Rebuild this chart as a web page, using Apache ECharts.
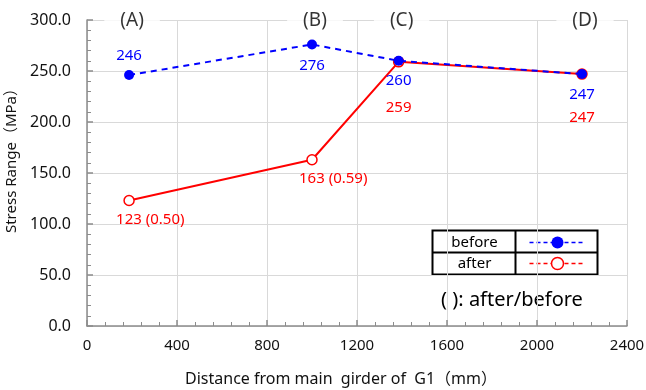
<!DOCTYPE html>
<html>
<head>
<meta charset="utf-8">
<script src="https://cdn.jsdelivr.net/npm/echarts@6/dist/echarts.min.js"></script>
<style>
  html, body { margin: 0; padding: 0; background: #fff; }
  #main { width: 646px; height: 390px; }
</style>
</head>
<body>
<div id="main"></div>
<script>
// distance from main girder (mm) for each measuring point
const distances = [187, 1000, 1385, 2200];
const locationNames = ['(A)', '(B)', '(C)', '(D)'];
// stress range (MPa)
const beforeValues = [246, 276, 260, 247];
const afterValues = [123, 163, 259, 247];
const ratioTexts = ['(0.50)', '(0.59)', '', ''];
const xTicks = [0, 400, 800, 1200, 1600, 2000, 2400];
const yTicks = [0, 50, 100, 150, 200, 250, 300];

const FONT = '"Noto Sans", "Noto Sans CJK JP", sans-serif';
const BLUE = '#0000ff';
const RED = '#ff0000';

// label placement per point (style only)
const beforeLabelPos = [['top', 7], ['bottom', 9], ['bottom', 7], ['bottom', 8]];
const afterLabelPos = [['bottom', 6], ['bottom', 6], ['bottom', 33], ['bottom', 30]];

const chart = echarts.init(document.getElementById('main'), null, {renderer: 'canvas'});

const beforeData = beforeValues.map(function (v, i) {
  return {
    value: [distances[i], v],
    label: {position: beforeLabelPos[i][0], distance: beforeLabelPos[i][1]}
  };
});
const afterData = afterValues.map(function (v, i) {
  const hasRatio = ratioTexts[i] !== '';
  return {
    value: [distances[i], v],
    label: {
      position: afterLabelPos[i][0],
      distance: afterLabelPos[i][1],
      align: hasRatio ? 'left' : 'center',
      offset: hasRatio ? [-13, 0] : [0, 0]
    }
  };
});

const axisLineStyle = {color: '#8c8c8c', width: 1.5};

const option = {
  animation: false,
  grid: {left: 87, right: 19, top: 20, bottom: 64, outerBoundsMode: 'none'},
  xAxis: {
    type: 'value',
    min: xTicks[0],
    max: xTicks[xTicks.length - 1],
    interval: 400,
    name: 'Distance from main  girder of  G1（mm）',
    nameLocation: 'middle',
    nameGap: 45,
    nameTextStyle: {fontFamily: FONT, fontSize: 16, color: '#111', padding: [0, 32, 0, 0]},
    axisLine: {lineStyle: axisLineStyle},
    axisTick: {show: true, inside: true, length: 6, lineStyle: axisLineStyle},
    minorTick: {show: true, splitNumber: 5, length: 4, lineStyle: {color: '#8c8c8c'}},
    axisLabel: {
      fontFamily: FONT, fontSize: 15, color: '#111', margin: 12,
      formatter: function (v) { return String(v); }
    },
    splitLine: {show: true, lineStyle: {color: '#d9d9d9', width: 1}}
  },
  yAxis: {
    type: 'value',
    min: yTicks[0],
    max: yTicks[yTicks.length - 1],
    interval: 50,
    name: 'Stress Range（MPa）',
    nameLocation: 'middle',
    nameGap: 58,
    nameTextStyle: {fontFamily: FONT, fontSize: 15, color: '#111', padding: [0, 0, 0, 32]},
    axisLine: {show: true, lineStyle: axisLineStyle},
    axisTick: {show: true, inside: true, length: 6, lineStyle: axisLineStyle},
    minorTick: {show: true, splitNumber: 5, length: 4, lineStyle: {color: '#8c8c8c'}},
    axisLabel: {
      fontFamily: FONT, fontSize: 16, color: '#111', margin: 16,
      formatter: function (v) { return v.toFixed(1); }
    },
    splitLine: {show: true, lineStyle: {color: '#d9d9d9', width: 1}}
  },
  series: [
    {
      name: 'after',
      type: 'line',
      z: 2,
      data: afterData,
      symbol: 'circle',
      symbolSize: 10,
      itemStyle: {color: '#fff', borderColor: RED, borderWidth: 1.5},
      lineStyle: {color: RED, width: 2},
      label: {
        show: true,
        fontFamily: FONT,
        fontSize: 15,
        color: RED,
        formatter: function (p) {
          const r = ratioTexts[p.dataIndex];
          return r ? p.value[1] + ' ' + r : String(p.value[1]);
        }
      }
    },
    {
      name: 'before',
      type: 'line',
      z: 3,
      data: beforeData,
      symbol: 'circle',
      symbolSize: 10,
      itemStyle: {color: BLUE},
      lineStyle: {color: BLUE, width: 2, type: [6, 5]},
      label: {
        show: true,
        fontFamily: FONT,
        fontSize: 15,
        color: BLUE,
        formatter: function (p) { return String(p.value[1]); }
      }
    },
    {
      // location names sitting on the top grid line
      type: 'scatter',
      silent: true,
      z: 4,
      symbolSize: 0,
      data: distances.map(function (d) { return [d, yTicks[yTicks.length - 1]]; }),
      label: {
        show: true,
        position: 'inside',
        offset: [3, 1],
        fontFamily: FONT,
        fontSize: 19,
        color: '#000',
        backgroundColor: '#fff',
        padding: [2, 16],
        formatter: function (p) { return locationNames[p.dataIndex]; }
      }
    }
  ],
  graphic: [
    {
      type: 'group',
      left: 430,
      top: 228,
      children: [
        {type: 'rect', shape: {x: 0, y: 0, width: 165, height: 44}, style: {fill: '#fff', stroke: '#000', lineWidth: 2}},
        {type: 'line', shape: {x1: 83, y1: 0, x2: 83, y2: 44}, style: {stroke: '#000', lineWidth: 2}},
        {type: 'line', shape: {x1: 0, y1: 22, x2: 165, y2: 22}, style: {stroke: '#000', lineWidth: 2}},
        {type: 'text', x: 42, y: 12, style: {text: 'before', font: '15px ' + FONT, fill: '#000', align: 'center', verticalAlign: 'middle'}},
        {type: 'text', x: 42, y: 33, style: {text: 'after', font: '15px ' + FONT, fill: '#000', align: 'center', verticalAlign: 'middle'}},
        {type: 'line', shape: {x1: 97, y1: 12, x2: 153, y2: 12}, style: {stroke: BLUE, lineWidth: 1.5, lineDash: [4, 3]}},
        {type: 'circle', shape: {cx: 125, cy: 12, r: 6}, style: {fill: BLUE}},
        {type: 'line', shape: {x1: 97, y1: 33, x2: 153, y2: 33}, style: {stroke: RED, lineWidth: 1.5, lineDash: [4, 3]}},
        {type: 'circle', shape: {cx: 125, cy: 33, r: 6}, style: {fill: '#fff', stroke: RED, lineWidth: 1.5}}
      ]
    },
    {
      type: 'text',
      x: 512,
      y: 300,
      style: {text: '( ): after/before', font: '20px ' + FONT, fill: '#000', align: 'center', verticalAlign: 'middle'}
    }
  ]
};

chart.setOption(option);
</script>
</body>
</html>
